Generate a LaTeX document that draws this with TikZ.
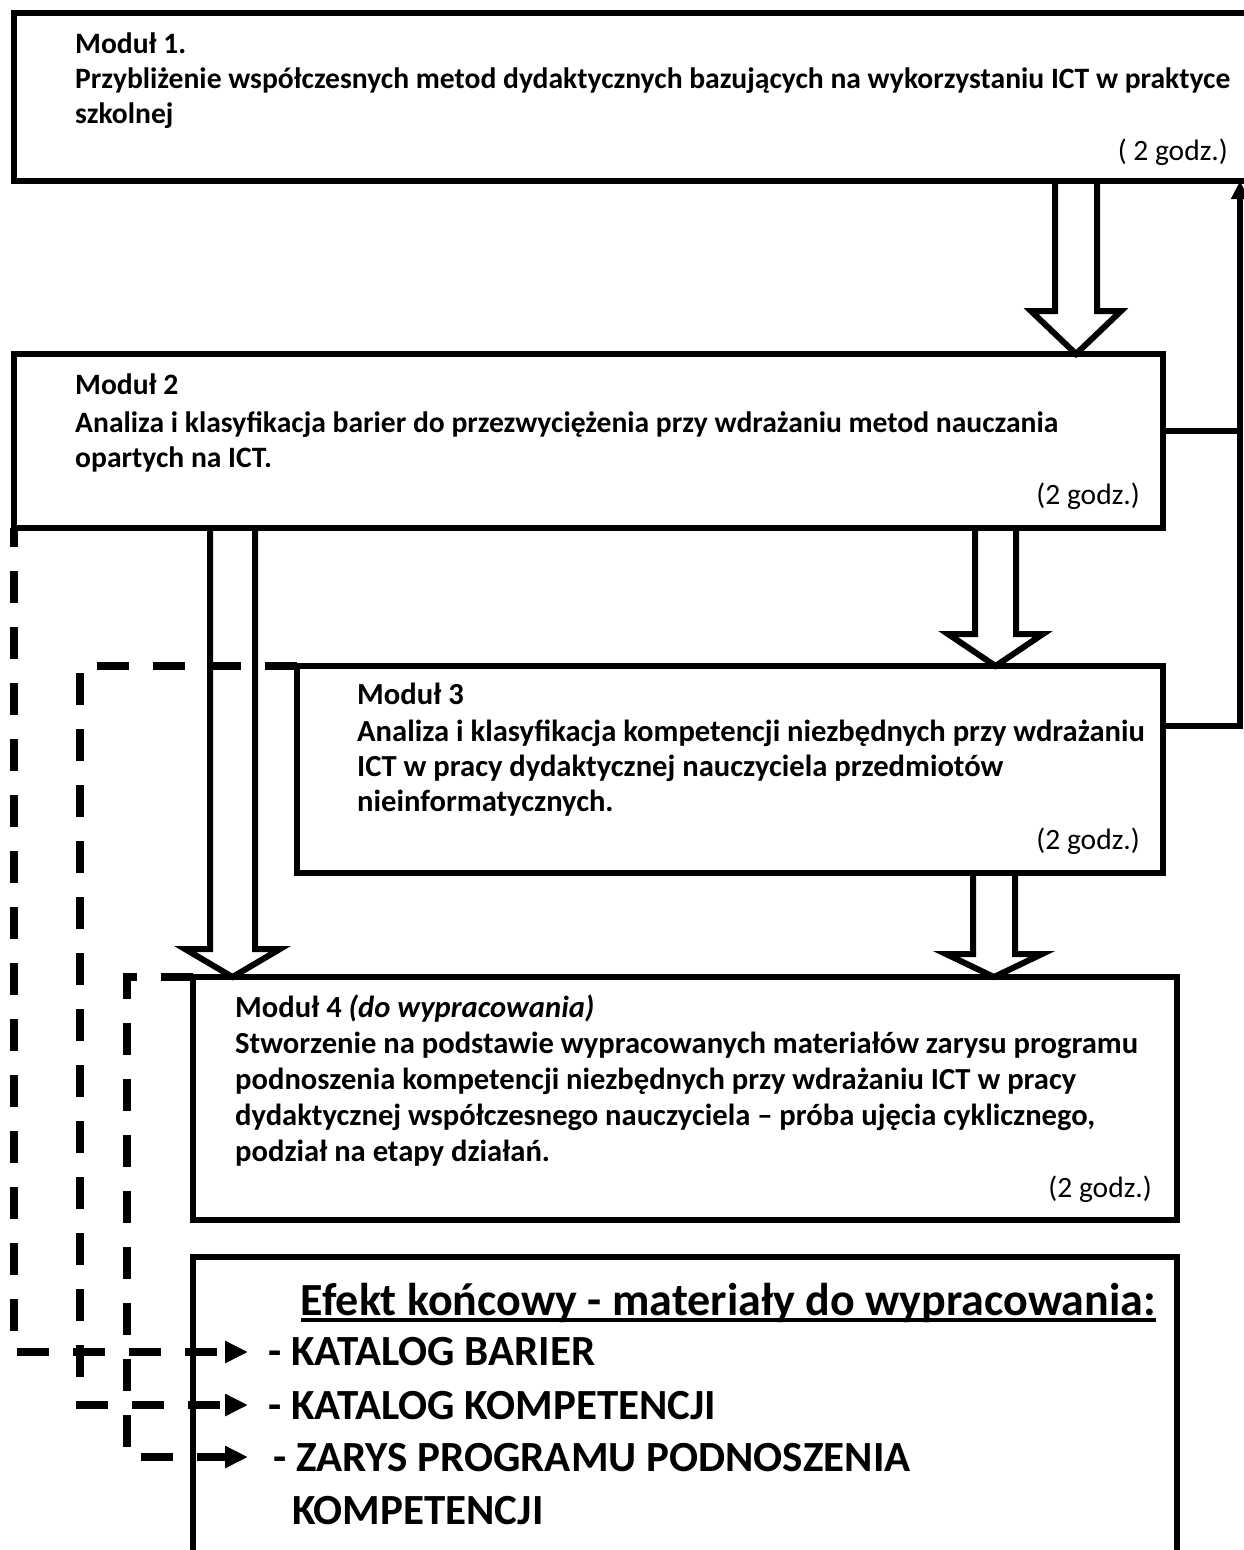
\documentclass[tikz,border=0pt]{standalone}
\usepackage{fontspec}
\setmainfont{Carlito}
\usetikzlibrary{arrows.meta}
\begin{document}
\begin{tikzpicture}[x=1pt,y=-1pt,
  boxst/.style={draw, line width=6.5pt, inner sep=0pt, outer sep=0pt, anchor=north west},
  txt/.style={anchor=base west, inner sep=0pt, font=\fontsize{29.6}{35}\selectfont\bfseries},
  txtb/.style={anchor=base west, inner sep=0pt, font=\fontsize{30.6}{35}\selectfont\bfseries},
  hrs/.style={anchor=base east, inner sep=0pt, font=\fontsize{29.5}{35}\selectfont},
  big/.style={anchor=base west, inner sep=0pt, font=\fontsize{43}{50}\selectfont\bfseries},
  head/.style={anchor=base east, inner sep=0pt, font=\fontsize{46}{50}\selectfont\bfseries},
  blockarrow/.style={line width=6pt, line join=miter, miter limit=20},
  dashline/.style={line width=8pt, dash pattern=on 32pt off 24pt},
  dtip/.style={-{Triangle[length=23pt,width=21pt]}},
  fb/.style={line width=6pt}]
\useasboundingbox (0,0) rectangle (1244,1550);
\fill[white] (0,0) rectangle (1244,1550);
\clip (0,0) rectangle (1244,1550);

% boxes
\node[boxst, minimum width=1238pt, minimum height=168pt] (b1) at (14,13) {};
\node[boxst, minimum width=1149pt, minimum height=174pt] (b2) at (14,354) {};
\node[boxst, minimum width=866pt, minimum height=207pt] (b3) at (297,666) {};
\node[boxst, minimum width=984pt, minimum height=243pt] (b4) at (193,977) {};
\node[boxst, minimum width=984pt, minimum height=400pt] (b5) at (193,1257) {};

% box 1 text
\node[txt] (t1a) at (75,53) {Moduł 1.};
\node[txt] (t1b) at (75,88) {Przybliżenie współczesnych metod dydaktycznych bazujących na wykorzystaniu ICT w praktyce};
\node[txt] (t1c) at (75,123) {szkolnej};
\node[hrs] (t1d) at (1228,160) {( 2 godz.)};

% box 2 text
\node[txt] (t2a) at (75,394) {Moduł 2};
\node[txt] (t2b) at (75,432) {Analiza i klasyfikacja barier do przezwyciężenia przy wdrażaniu metod nauczania};
\node[txt] (t2c) at (75,467) {opartych na ICT.};
\node[hrs] (t2d) at (1140,504) {(2 godz.)};

% box 3 text
\node[txtb] (t3a) at (357,704) {Moduł 3};
\node[txtb] (t3b) at (357,741) {Analiza i klasyfikacja kompetencji niezbędnych przy wdrażaniu};
\node[txtb] (t3c) at (357,776) {ICT w pracy dydaktycznej nauczyciela przedmiotów};
\node[txtb] (t3d) at (357,811) {nieinformatycznych.};
\node[hrs] (t3e) at (1140,849) {(2 godz.)};

% box 4 text
\node[txtb] (t4a) at (235,1017) {Moduł 4 \textit{(do wypracowania)}};
\node[txtb] (t4b) at (235,1053) {Stworzenie na podstawie wypracowanych materiałów zarysu programu};
\node[txtb] (t4c) at (235,1089) {podnoszenia kompetencji niezbędnych przy wdrażaniu ICT w pracy};
\node[txtb] (t4d) at (235,1125) {dydaktycznej współczesnego nauczyciela – próba ujęcia cyklicznego,};
\node[txtb] (t4e) at (235,1161) {podział na etapy działań.};
\node[hrs] (t4f) at (1152,1197) {(2 godz.)};

% box 5 text
\node[head] (hd) at (1156,1315) {Efekt końcowy - materiały do wypracowania:};
\draw[line width=3.5pt] ([yshift=-5pt]hd.base west) -- ([yshift=-5pt]hd.base east);
\node[big] (i1) at (268,1365) {- KATALOG BARIER};
\node[big] (i2) at (268,1419) {- KATALOG KOMPETENCJI};
\node[big] (i3) at (273,1471) {- ZARYS PROGRAMU PODNOSZENIA};
\node[big] (i4) at (292,1524) {KOMPETENCJI};

% hollow block arrows
\draw[blockarrow] (1055,0 |- b1.south) -- (1055,311) -- (1031,311) -- (1076,0 |- b2.north) -- (1121,311) -- (1097,311) -- (1097,0 |- b1.south);
\draw[blockarrow] (975,0 |- b2.south) -- (975,634) -- (948,634) -- (995.5,0 |- b3.north) -- (1043,634) -- (1016,634) -- (1016,0 |- b2.south);
\draw[blockarrow] (973,0 |- b3.south) -- (973,954) -- (946,954) -- (994,0 |- b4.north) -- (1042,954) -- (1015,954) -- (1015,0 |- b3.south);
\draw[blockarrow] (210,0 |- b2.south) -- (210,949) -- (185,949) -- (232.5,0 |- b4.north) -- (280,949) -- (255,949) -- (255,0 |- b2.south);

% feedback connector on the right
\coordinate (fb2) at (1240,431);
\coordinate (fb3) at (1240,726);
\draw[fb] (b2.east |- fb2) -- (fb2);
\draw[fb, -{Triangle[length=18pt,width=17pt]}] (b3.east |- fb3) -- (fb3) -- (fb3 |- b1.south);

% dashed connectors to the results
\coordinate (e1) at (248,1352);
\coordinate (e2) at (248,1405);
\coordinate (e3) at (248,1457);
\draw[dashline, dash phase=13pt, dtip] (b2.south west) -- (14,1352) -- (e1);
\draw[dashline, dtip] (b3.north west) -- (80,666) -- (80,1405) -- (e2);
\draw[dashline, dtip] (b4.north west) -- (127,977) -- (127,1457) -- (e3);
\end{tikzpicture}
\end{document}
